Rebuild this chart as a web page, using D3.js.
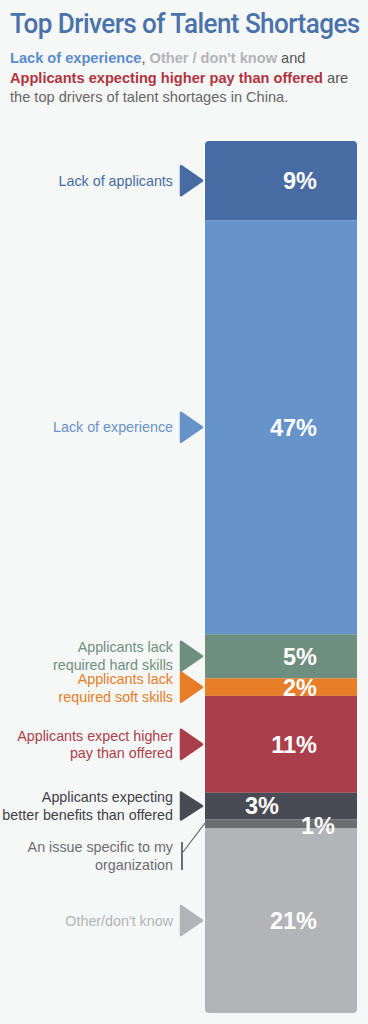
<!DOCTYPE html>
<html><head><meta charset="utf-8">
<script src="https://cdn.jsdelivr.net/npm/d3@7"></script>
<style>
html,body{margin:0;padding:0;background:#f6f7f7;}
svg{display:block;}
</style></head>
<body>
<svg id="c" width="368" height="1024"></svg>
<script>
const categories = ["Lack of applicants","Lack of experience","Applicants lack required hard skills","Applicants lack required soft skills","Applicants expect higher pay than offered","Applicants expecting better benefits than offered","An issue specific to my organization","Other/don't know"];
const labelLines = [["Lack of applicants"],["Lack of experience"],["Applicants lack","required hard skills"],["Applicants lack","required soft skills"],["Applicants expect higher","pay than offered"],["Applicants expecting","better benefits than offered"],["An issue specific to my","organization"],["Other/don't know"]];
const values = [9,47,5,2,11,3,1,21];
const colors = ["#466ca3","#6693c9","#6e8f80","#e77d27","#aa3f4b","#494b54","#6c6d72","#b3b4b8"];
const textColors = ["#466ca3","#6693c9","#6e8f80","#e77d27","#aa3f4b","#3f4048","#6c6d72","#b3b4b8"];

const svg = d3.select("#c");
const font = "'Liberation Sans', Arial, Helvetica, sans-serif";

// Title
const title = svg.append("text").attr("x",10).attr("y",33)
  .attr("font-family","Roboto, sans-serif").attr("font-weight",500)
  .attr("font-size",27.5).attr("fill","#4a72ab")
  .attr("letter-spacing",-0.6)
  .text("Top Drivers of Talent Shortages");
// fit to target width by scaling horizontally if needed
const tw = title.node().getComputedTextLength();
if (tw > 350) {
  title.attr("transform",`translate(10,0) scale(${350/tw},1) translate(-10,0)`);
}

// Subtitle
const sub = [
  [["Lack of experience","#5b8ccc",700],[", ","#555",400],["Other / don't know","#b3b4b8",700],[" and","#555",400]],
  [["Applicants expecting higher pay than offered","#b0343f",700],[" are","#555",400]],
  [["the top drivers of talent shortages in China.","#666",400]]
];
sub.forEach((line,i)=>{
  const t = svg.append("text").attr("x",10).attr("y",63+i*19.5)
    .attr("font-family",font).attr("font-size",14.6);
  line.forEach(s=>t.append("tspan").attr("fill",s[1]).attr("font-weight",s[2]).text(s[0]));
});

// Bar
const total = d3.sum(values);
const y = d3.scaleLinear().domain([0,total]).range([141,1013]);
const x0 = 205, x1 = 357;
const cum = d3.cumsum(values);
const segs = values.map((v,i)=>({v,i,start:cum[i]-v,end:cum[i]}));

svg.append("defs").append("clipPath").attr("id","bar")
  .append("rect").attr("x",x0).attr("y",y(0)).attr("width",x1-x0)
  .attr("height",y(total)-y(0)).attr("rx",4);

const g = svg.append("g").attr("clip-path","url(#bar)");
g.selectAll("rect").data(segs).join("rect")
  .attr("x",x0).attr("width",x1-x0)
  .attr("y",d=>y(d.start)).attr("height",d=>y(d.end)-y(d.start))
  .attr("fill",d=>colors[d.i]);

// Value labels
svg.selectAll("text.val").data(segs).join("text").attr("class","val")
  .attr("x",d=> d.i===5 ? 279 : d.i===6 ? 335 : 317)
  .attr("y",d=> d.i===6 ? (y(d.start)+y(d.end))/2+2 : (y(d.start)+y(d.end))/2)
  .attr("dy","0.36em")
  .attr("text-anchor","end").attr("font-family",font).attr("font-weight",700)
  .attr("font-size",23.5).attr("fill","#fff")
  .text(d=>d.v+"%");

// Category labels and markers
segs.forEach(d=>{
  const cy = (y(d.start)+y(d.end))/2;
  const lines = labelLines[d.i];
  const lh = 17.5;
  let ty = cy;
  if (d.i===2) ty = cy - 0.5;
  if (d.i===3) ty = cy + 0.8;
  if (d.i===6) {
    ty = 856;
    svg.append("line").attr("x1",182).attr("x2",182).attr("y1",ty-14).attr("y2",ty+14)
      .attr("stroke",colors[6]).attr("stroke-width",2);
    svg.append("line").attr("x1",183).attr("y1",ty-4).attr("x2",x0).attr("y2",y(d.start)+4)
      .attr("stroke",colors[6]).attr("stroke-width",1.2);
  } else {
    const h = d.i===5 ? 27 : 29, w = 21;
    const tri = `M${181},${cy-h/2} L${181+w},${cy} L${181},${cy+h/2} Z`;
    svg.append("path").attr("d",tri).attr("fill",colors[d.i])
      .attr("stroke",colors[d.i]).attr("stroke-width",2.5).attr("stroke-linejoin","round");
  }
  const t = svg.append("text").attr("text-anchor","end").attr("font-family",font)
    .attr("font-size",14.3).attr("fill",textColors[d.i]);
  lines.forEach((l,k)=>{
    t.append("tspan").attr("x",173)
      .attr("y",ty + (k-(lines.length-1)/2)*lh).attr("dy","0.35em").text(l);
  });
});
</script>
</body></html>
